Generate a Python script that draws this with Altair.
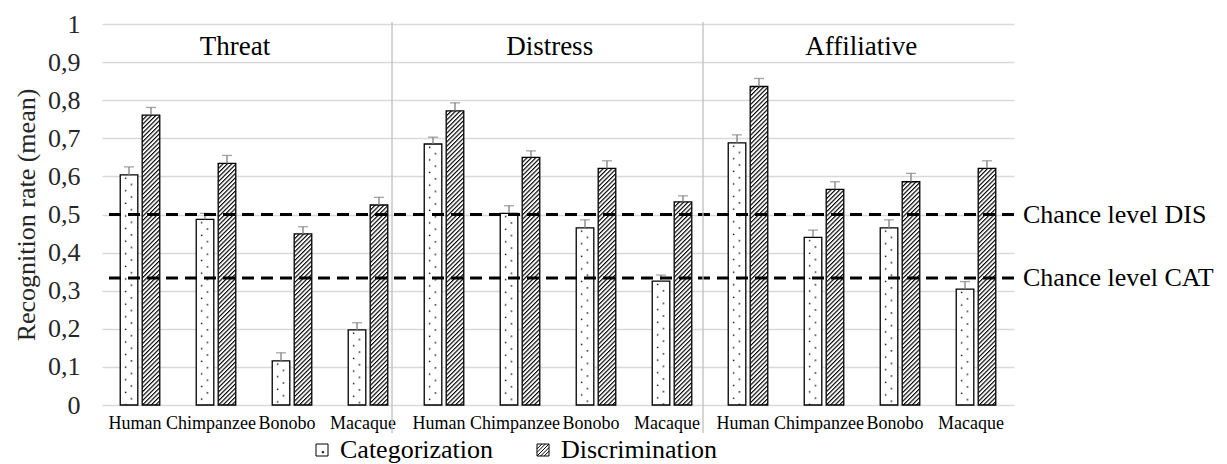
import base64
import altair as alt
import pandas as pd

# ---------------- data ----------------
panels = ["Threat", "Distress", "Affiliative"]
species = ["Human", "Chimpanzee", "Bonobo", "Macaque"]
series = ["Categorization", "Discrimination"]

cat_mean = [0.604, 0.487, 0.116, 0.197, 0.685, 0.503, 0.465, 0.325, 0.688, 0.440, 0.465, 0.304]
cat_err = [0.021, 0.016, 0.021, 0.019, 0.018, 0.020, 0.021, 0.016, 0.021, 0.019, 0.021, 0.020]
dis_mean = [0.761, 0.634, 0.449, 0.525, 0.772, 0.650, 0.621, 0.533, 0.836, 0.566, 0.586, 0.621]
dis_err = [0.020, 0.021, 0.019, 0.020, 0.021, 0.017, 0.020, 0.016, 0.021, 0.020, 0.022, 0.020]

chance_values = [0.5, 0.3333]
chance_labels = ["Chance level DIS", "Chance level CAT"]

y_ticks = [0, 0.1, 0.2, 0.3, 0.4, 0.5, 0.6, 0.7, 0.8, 0.9, 1]
y_title = "Recognition rate (mean)"

# ---------------- styles ----------------
SERIF = "Liberation Serif"
W, H = 912, 381


def svg_uri(svg):
    return "data:image/svg+xml;base64," + base64.b64encode(svg.encode()).decode()


dots_svg = (
    '<svg xmlns="http://www.w3.org/2000/svg" width="100%" height="100%">'
    '<defs><pattern id="p" width="13" height="12.6" patternUnits="userSpaceOnUse">'
    '<rect x="4.6" y="2.6" width="1.4" height="1.4" fill="#000"/>'
    '<rect x="10.6" y="8.9" width="1.4" height="1.4" fill="#000"/></pattern></defs>'
    '<rect width="100%" height="100%" fill="#fff"/>'
    '<rect width="100%" height="100%" fill="url(#p)"/></svg>'
)
hatch_svg = (
    '<svg xmlns="http://www.w3.org/2000/svg" width="100%" height="100%">'
    '<defs><pattern id="h" width="3.1" height="10" patternUnits="userSpaceOnUse" '
    'patternTransform="rotate(45)">'
    '<rect x="0" y="0" width="1.15" height="10" fill="#000"/></pattern></defs>'
    '<rect width="100%" height="100%" fill="#fff"/>'
    '<rect width="100%" height="100%" fill="url(#h)"/></svg>'
)
pattern_url = {"Categorization": svg_uri(dots_svg), "Discrimination": svg_uri(hatch_svg)}

cat_path = "M-1,-1H1V1H-1Z M0.05,0.25h0.22v0.22h-0.22Z"
dis_path = ("M-1,-1H1V1H-1Z M-1,-0.2L-0.2,-1 M-1,0.4L0.4,-1 M-1,1L1,-1 "
            "M-0.4,1L1,-0.4 M0.2,1L1,0.2")

# ---------------- tables ----------------
keys = [f"{p}|{s}" for p in panels for s in species]
rows = []
for i, k in enumerate(keys):
    for ser, m, e in (("Categorization", cat_mean, cat_err), ("Discrimination", dis_mean, dis_err)):
        rows.append({"key": k, "series": ser, "value": m[i], "upper": m[i] + e[i],
                     "url": pattern_url[ser]})
df = pd.DataFrame(rows)
chance_df = pd.DataFrame({"value": chance_values, "label": chance_labels})

# ---------------- encodings ----------------
x_scale = alt.Scale(paddingInner=0, paddingOuter=0)
x_axis = alt.Axis(title=None, labelExpr="split(datum.label, '|')[1]", labelAngle=0,
                  domain=False, ticks=False, grid=False, labelFont=SERIF, labelFontSize=18,
                  labelColor="#000", labelPadding=9, labelOffset=-5)


def xenc(band=0.5):
    return alt.X("key:N", sort=keys, scale=x_scale, axis=x_axis, bandPosition=band)


x_enc = alt.X("key:N", sort=keys, scale=x_scale, axis=x_axis)
xoff = alt.XOffset("series:N", sort=series,
                   scale=alt.Scale(paddingInner=0.2, paddingOuter=0.83))
y_axis = alt.Axis(title=y_title, values=y_ticks,
                  labelExpr="replace(format(datum.value, '.1~f'), '.', ',')",
                  domain=False, ticks=False, grid=True, gridColor="#d9d9d9", gridWidth=1.3,
                  labelFont=SERIF, labelFontSize=26, labelColor="#262626", labelPadding=22,
                  labelFlush=False,
                  titleFont=SERIF, titleFontSize=26, titleFontWeight="normal",
                  titleColor="#262626", titlePadding=8)
y_scale = alt.Scale(domain=[0, 1], nice=False)
y_enc = alt.Y("value:Q", scale=y_scale, axis=y_axis)

base = alt.Chart(df)

images = base.mark_image(aspect=False).encode(
    x=x_enc, xOffset=xoff, y=y_enc, y2=alt.datum(0), url="url:N")

outlines = base.mark_bar(fillOpacity=0, stroke="black", strokeWidth=1.3).encode(
    x=x_enc, xOffset=xoff, y=y_enc)

err_stem = base.mark_rule(color="#7f7f7f", strokeWidth=1.3).encode(
    x=x_enc, xOffset=xoff, y=y_enc, y2="upper:Q")
err_cap = base.mark_tick(color="#7f7f7f", thickness=1.3, size=10).encode(
    x=x_enc, xOffset=xoff, y=alt.Y("upper:Q", scale=y_scale, axis=y_axis))

legend_pts = base.mark_point(opacity=0, filled=False, color="black").encode(
    x=x_enc, xOffset=xoff, y=y_enc,
    shape=alt.Shape("series:N", sort=series,
                    scale=alt.Scale(domain=series, range=[cat_path, dis_path]),
                    legend=alt.Legend(title=None, orient="none", legendX=207, legendY=413,
                                      direction="horizontal", symbolSize=144,
                                      symbolStrokeWidth=1, symbolStrokeColor="black",
                                      symbolOpacity=1, labelFont=SERIF, labelFontSize=26,
                                      labelColor="#000", columnPadding=36, labelOffset=5)))

chance_rules = alt.Chart(chance_df).mark_rule(color="black", strokeWidth=3,
                                              strokeDash=[12, 7]).encode(
    y=alt.Y("value:Q", scale=y_scale, axis=y_axis))
chance_text = alt.Chart(chance_df).mark_text(align="left", baseline="middle", font=SERIF,
                                             fontSize=26, color="#000").encode(
    x=alt.value(W + 9), y=alt.Y("value:Q", scale=y_scale, axis=y_axis), text="label:N")

sep_layers = []
for k, bp in (("Threat|Macaque", 0.816), ("Distress|Macaque", 0.908)):
    sep_layers.append(
        alt.Chart(pd.DataFrame({"key": [k]})).mark_rule(color="#bfbfbf", strokeWidth=1.3).encode(
            x=xenc(bp), y=alt.value(-2), y2=alt.value(H + 28)))

title_layers = []
for p, bp in (("Threat", 0.75), ("Distress", 0.89), ("Affiliative", 0.99)):
    title_layers.append(
        alt.Chart(pd.DataFrame({"key": [f"{p}|Chimpanzee"], "panel": [p]})).mark_text(
            font=SERIF, fontSize=27, color="#000", baseline="middle").encode(
            x=xenc(bp), y=alt.value(23), text="panel:N"))

chart = alt.layer(
    images, outlines, err_stem, err_cap, chance_rules, chance_text, legend_pts,
    *sep_layers, *title_layers
).properties(
    width=W, height=H,
    padding={"left": 5, "top": 3, "right": 0, "bottom": 0},
    background="white",
).configure(
    font=SERIF
).configure_axis(
    labelFont=SERIF, titleFont=SERIF
).configure_legend(
    labelFont=SERIF
).configure_view(strokeWidth=0)

chart.save("out.html", embed_options={"renderer": "svg", "actions": False})
